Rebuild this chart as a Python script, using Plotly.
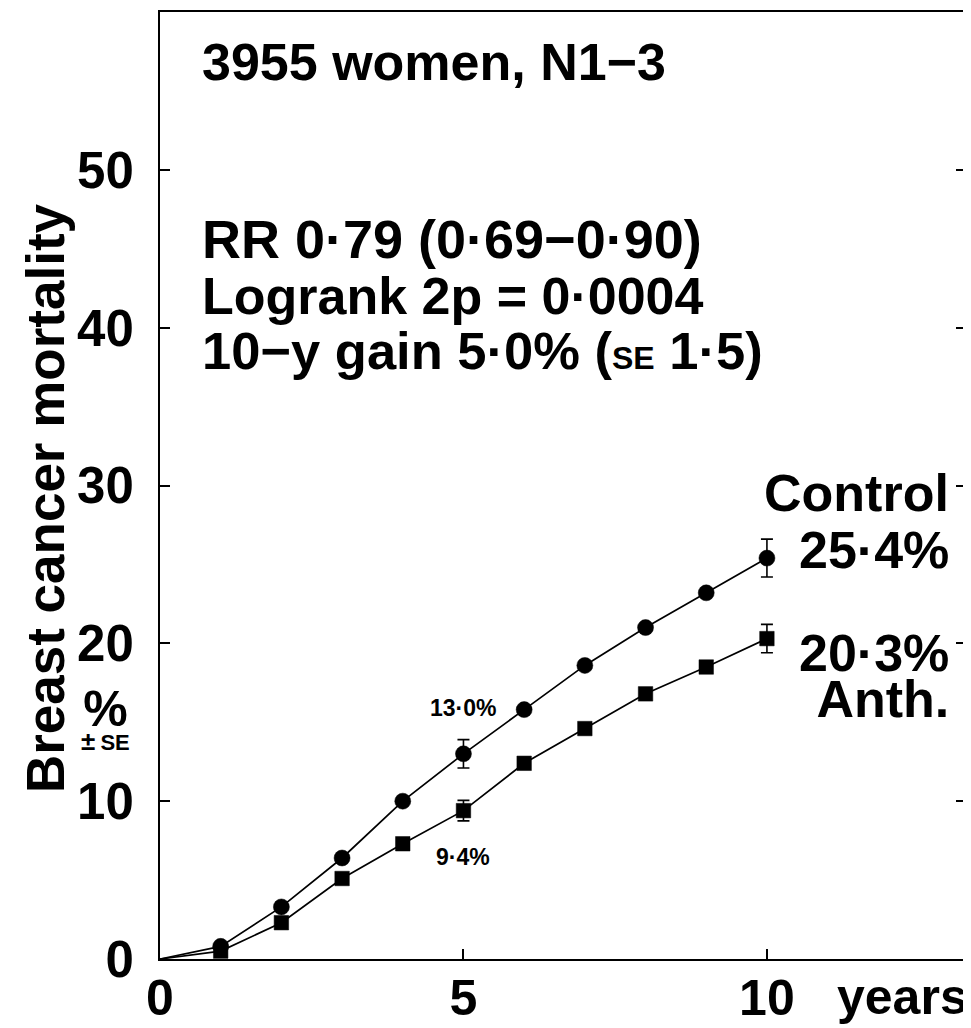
import plotly.graph_objects as go

years = [0, 1, 2, 3, 4, 5, 6, 7, 8, 9, 10]
control = [0, 0.8, 3.3, 6.4, 10.0, 13.0, 15.8, 18.6, 21.0, 23.2, 25.4]
anth = [0, 0.5, 2.3, 5.1, 7.3, 9.4, 12.4, 14.6, 16.8, 18.5, 20.3]

se_years = [5, 10]
control_se_y = [13.0, 25.4]
control_se = [0.9, 1.2]
anth_se_y = [9.4, 20.3]
anth_se = [0.65, 0.9]

x_ticks = [0, 5, 10]
y_ticks = [0, 10, 20, 30, 40, 50]

FONT = "Liberation Sans, Arial, sans-serif"
BLACK = "#000000"

marker_sizes_c = [0] + [16] * (len(years) - 1)
marker_sizes_a = [0] + [14.5] * (len(years) - 1)

fig = go.Figure()
fig.add_trace(go.Scatter(
    x=years, y=control, mode="lines+markers",
    line=dict(color=BLACK, width=1.7),
    marker=dict(symbol="circle", size=marker_sizes_c, color=BLACK, opacity=1,
                line=dict(width=0.5, color=BLACK)),
    showlegend=False, hoverinfo="skip"))
fig.add_trace(go.Scatter(
    x=years, y=anth, mode="lines+markers",
    line=dict(color=BLACK, width=1.7),
    marker=dict(symbol="square", size=marker_sizes_a, color=BLACK, opacity=1,
                line=dict(width=0.5, color=BLACK)),
    showlegend=False, hoverinfo="skip"))
fig.add_trace(go.Scatter(
    x=se_years, y=control_se_y, mode="markers",
    marker=dict(size=1, color="rgba(0,0,0,0)"),
    error_y=dict(type="data", array=control_se, color=BLACK, thickness=1.6, width=6),
    showlegend=False, hoverinfo="skip"))
fig.add_trace(go.Scatter(
    x=se_years, y=anth_se_y, mode="markers",
    marker=dict(size=1, color="rgba(0,0,0,0)"),
    error_y=dict(type="data", array=anth_se, color=BLACK, thickness=1.6, width=6),
    showlegend=False, hoverinfo="skip"))

big = dict(family=FONT, size=52, color=BLACK, weight="bold")
small = dict(family=FONT, size=23, color=BLACK, weight="bold")

annotations = [
    dict(x=0.66, y=56.84, text="3955 women, N1\u22123", xanchor="left", yanchor="middle", font=big),
    dict(x=0.66, y=45.6, text="RR 0\u00b779 (0\u00b769\u22120\u00b790)", xanchor="left", yanchor="middle",
         font=dict(family=FONT, size=54, color=BLACK, weight="bold")),
    dict(x=0.66, y=42.0, text="Logrank 2p = 0\u00b70004", xanchor="left", yanchor="middle", font=big),
    dict(x=0.66, y=38.55, text="10\u2212y gain 5\u00b70% (<span style='font-size:32px'>SE</span> 1\u00b75)",
         xanchor="left", yanchor="middle", font=dict(family=FONT, size=52.5, color=BLACK, weight="bold")),
    dict(x=5, y=15.9, text="13\u00b70%", xanchor="center", yanchor="middle", font=small),
    dict(x=5, y=6.46, text="9\u00b74%", xanchor="center", yanchor="middle", font=small),
    dict(x=13.04, y=29.5, text="Control", xanchor="right", yanchor="middle", font=big),
    dict(x=13.04, y=25.9, text="25\u00b74%", xanchor="right", yanchor="middle", font=big),
    dict(x=13.04, y=17.95,
         text="<span style='font-size:52px'>20\u00b73%</span><br><span style='font-size:52px'>Anth.</span>",
         xanchor="right", yanchor="middle", align="right",
         font=dict(family=FONT, size=35.5, color=BLACK, weight="bold")),
    dict(x=-0.068, xref="paper", y=15.25,
         text="<span style='font-size:50px'>%</span><br><span style='font-size:26px'>\u00b1</span> "
              "<span style='font-size:22px'>SE</span>",
         xanchor="center", yanchor="middle", align="center",
         font=dict(family=FONT, size=18.5, color=BLACK, weight="bold")),
    dict(x=-0.1427, xref="paper", y=29.2, text="Breast cancer mortality", textangle=-90,
         xanchor="center", yanchor="middle", font=dict(family=FONT, size=53, color=BLACK, weight="bold")),
    dict(x=11.12, y=-0.040, yref="paper", text="years", xanchor="left", yanchor="middle",
         font=dict(family=FONT, size=50, color=BLACK, weight="bold")),
]
for a in annotations:
    a.setdefault("xref", "x")
    a.setdefault("yref", "y")
    a["showarrow"] = False

# the page body adds an 8 px offset, so the figure is 8 px smaller and margins shifted
fig.update_layout(
    width=963, height=1020,
    margin=dict(l=152, r=5, t=4, b=69),
    paper_bgcolor="white", plot_bgcolor="white",
    annotations=annotations,
    xaxis=dict(range=[0, 13.28], tickvals=x_ticks, ticktext=[str(v) for v in x_ticks],
               ticks="inside", ticklen=10, tickwidth=1.5, tickcolor=BLACK,
               showline=True, linecolor=BLACK, linewidth=2, mirror=True,
               showgrid=False, zeroline=False, automargin=False, ticklabelstandoff=-6,
               tickfont=dict(family=FONT, size=50, color=BLACK, weight="bold")),
    yaxis=dict(range=[0, 60], tickvals=y_ticks, ticktext=[str(v) for v in y_ticks],
               ticks="inside", ticklen=10, tickwidth=1.5, tickcolor=BLACK,
               showline=True, linecolor=BLACK, linewidth=2, mirror="ticks",
               showgrid=False, zeroline=False, automargin=False, ticklabelstandoff=14,
               tickfont=dict(family=FONT, size=51, color=BLACK, weight="bold")),
)

fig.write_html("out.html")
